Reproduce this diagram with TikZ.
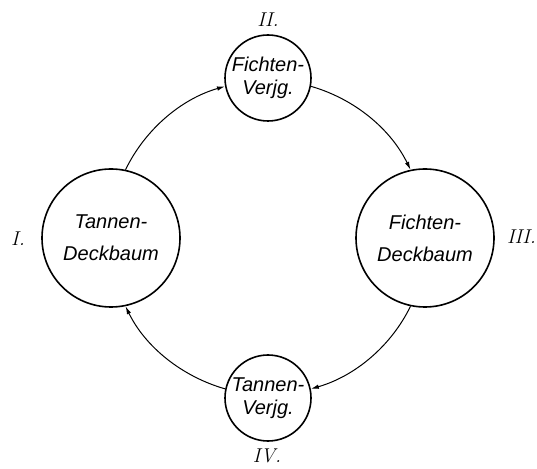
\documentclass[tikz,border=0pt]{standalone}
\usepackage{fontspec}
\newfontfamily\letterfont{Liberation Sans}
\usetikzlibrary{arrows.meta}
\begin{document}
\begin{tikzpicture}[x=1pt,y=1pt,
  big/.style={circle,draw,line width=1.6pt,minimum size=138pt,inner sep=0pt,align=center,
    font=\letterfont\itshape\fontsize{20}{32}\selectfont},
  small/.style={circle,draw,line width=1.6pt,minimum size=86pt,inner sep=0pt,align=center,
    font=\letterfont\itshape\fontsize{20}{23}\selectfont},
  num/.style={font=\itshape\fontsize{20}{24}\selectfont,inner sep=0pt},
  conn/.style={line width=1pt,-{Latex[length=8pt,width=4.5pt]}}]
\useasboundingbox (0,0) rectangle (537,468);
\node[big]   (I)   at (111,230) {Tannen-\\Deckbaum};
\node[small] (II)  at (268,390) {Fichten-\\Verjg.};
\node[big]   (III) at (425,230) {Fichten-\\Deckbaum};
\node[small] (IV)  at (268,70)  {Tannen-\\Verjg.};
\node[num] (nI)   at (18,229)  {I.};
\node[num] (nII)  at (268,448) {II.};
\node[num,anchor=east] (nIII) at (536,231) {III.};
\node[num] (nIV)  at (267,12)  {IV.};
\draw[conn] (I.78)   to[out=64,in=196,looseness=0.89]  (II.191);
\draw[conn] (II.-11) to[out=-16,in=116,looseness=0.89] (III.102);
\draw[conn] (III.-102) to[out=-116,in=16,looseness=0.89] (IV.12);
\draw[conn] (IV.168) to[out=164,in=-64,looseness=0.89] (I.-78);
\end{tikzpicture}
\end{document}
